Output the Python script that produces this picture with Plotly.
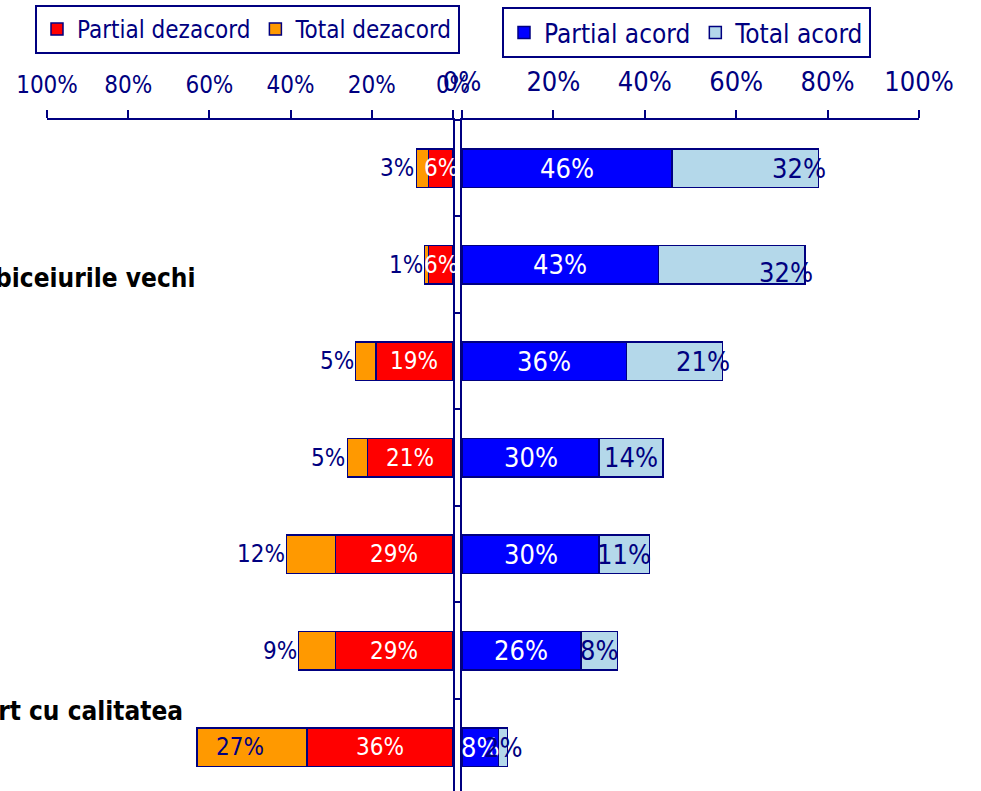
import plotly.graph_objects as go

# ---------------- data ----------------
categories = ["Afirmatia 1", "Afirmatia 2", "Afirmatia 3", "Afirmatia 4",
              "Afirmatia 5", "Afirmatia 6", "Afirmatia 7"]
row_labels = ["", "obiceiurile vechi", "", "", "", "", "raport cu calitatea"]
partial_dezacord = [6, 6, 19, 21, 29, 29, 36]
total_dezacord = [3, 1, 5, 5, 12, 9, 27]
partial_acord = [46, 43, 36, 30, 30, 26, 8]
total_acord = [32, 32, 21, 14, 11, 8, 2]
tick_vals = [0, 0.2, 0.4, 0.6, 0.8, 1.0]

# ---------------- style ----------------
NAVY = "#000080"
RED = "#FF0000"
ORANGE = "#FF9900"
BLUE = "#0000FF"
LIGHT = "#B4D8EA"
FONT = "DejaVu Sans Condensed, DejaVu Sans, sans-serif"
FS_L = 24     # left half text
FS_R = 27     # right half text
W, H = 981, 791
TOP = 120
plot_h = H - TOP

def pct(v):
    return [x / 100 for x in v]

fig = go.Figure()

common = dict(orientation="h", width=0.4,
              marker_line=dict(color=NAVY, width=1.5), textposition="none")

fig.add_trace(go.Bar(y=categories, x=pct(partial_dezacord), name="Partial dezacord",
                     marker_color=RED, xaxis="x", yaxis="y", legend="legend", **common))
fig.add_trace(go.Bar(y=categories, x=pct(total_dezacord), name="Total dezacord",
                     marker_color=ORANGE, xaxis="x", yaxis="y", legend="legend", **common))
fig.add_trace(go.Bar(y=categories, x=pct(partial_acord), name="Partial acord",
                     marker_color=BLUE, xaxis="x2", yaxis="y2", legend="legend2", **common))
fig.add_trace(go.Bar(y=categories, x=pct(total_acord), name="Total acord",
                     marker_color=LIGHT, xaxis="x2", yaxis="y2", legend="legend2", **common))

def ann(x, y, text, xr, yr, color, size, xanchor="center", xshift=0, yshift=0):
    return dict(x=x, y=y, xref=xr, yref=yr, text=text, showarrow=False,
                xanchor=xanchor, xshift=xshift, yshift=yshift,
                font=dict(color=color, size=size, family=FONT))

annotations = []
# "Total dezacord" labels (drawn first, below the others)
for c, pdz, tdz in zip(categories, partial_dezacord, total_dezacord):
    if tdz >= 20:
        annotations.append(ann((pdz + tdz / 2) / 100, c, f"{tdz}%", "x", "y", NAVY, FS_L,
                               xshift=-12))
    else:
        annotations.append(ann((pdz + tdz) / 100, c, f"{tdz}%", "x", "y", NAVY, FS_L,
                               xanchor="right", xshift=0))
# "Partial dezacord" labels
for c, pdz in zip(categories, partial_dezacord):
    annotations.append(ann(pdz / 200, c, f"{pdz}%", "x", "y", "white", FS_L))
# "Partial acord" labels
for c, pa in zip(categories, partial_acord):
    annotations.append(ann(pa / 200, c, f"{pa}%", "x2", "y2", "white", FS_R))
# "Total acord" labels
for i, (c, pa, ta) in enumerate(zip(categories, partial_acord, total_acord)):
    if ta >= 20:
        annotations.append(ann((pa + ta) / 100, c, f"{ta}%", "x2", "y2", NAVY, FS_R,
                               xanchor="right", xshift=10, yshift=-8 if i == 1 else 0))
    else:
        annotations.append(ann((pa + ta / 2) / 100, c, f"{ta}%", "x2", "y2", NAVY, FS_R))
# category texts (cut by the left border, as in the original)
label_pos = {1: (197, -13), 6: (185, 36)}
for i, (c, t) in enumerate(zip(categories, row_labels)):
    if t:
        xr, ys = label_pos[i]
        annotations.append(dict(x=xr / W, y=c, xref="paper", yref="y", text=f"<b>{t}</b>",
                                showarrow=False, xanchor="right", yshift=ys,
                                font=dict(color="black", size=26, family=FONT)))

def xaxis_style(size):
    return dict(side="top", showline=True, linecolor=NAVY, linewidth=1.5,
                ticks="outside", ticklen=8, tickcolor=NAVY, tickwidth=1.5,
                tickvals=tick_vals, tickformat=".0%", showgrid=False, zeroline=False,
                tickfont=dict(color=NAVY, size=size, family=FONT), ticklabelstandoff=8)

ycommon = dict(type="category", categoryarray=categories, categoryorder="array",
               range=[6.455, -0.5], showline=True, linecolor=NAVY, linewidth=1.5,
               showticklabels=False, showgrid=False, zeroline=False)

fig.update_layout(
    width=W, height=H,
    margin=dict(l=0, r=0, t=TOP, b=0, pad=0, autoexpand=False),
    paper_bgcolor="white", plot_bgcolor="white",
    barmode="stack", showlegend=True,
    font=dict(family=FONT, color=NAVY, size=FS_L),
    xaxis=dict(domain=[47 / W, 453 / W], range=[1, 0], anchor="y", **xaxis_style(FS_L)),
    xaxis2=dict(domain=[462 / W, 919 / W], range=[0, 1], anchor="y2", **xaxis_style(FS_R)),
    yaxis=dict(anchor="x", side="right", ticks="outside", ticklen=5, tickcolor=NAVY,
               tickwidth=1.5, tickson="boundaries", **ycommon),
    yaxis2=dict(anchor="x2", side="left", ticks="", **ycommon),
    legend=dict(orientation="h", x=35 / W, y=1 + (TOP - 5) / plot_h, xanchor="left",
                yanchor="top", bordercolor=NAVY, borderwidth=2, bgcolor="white",
                font=dict(color=NAVY, size=FS_L, family=FONT), traceorder="normal"),
    legend2=dict(orientation="h", x=502 / W, y=1 + (TOP - 7) / plot_h, xanchor="left",
                 yanchor="top", bordercolor=NAVY, borderwidth=2, bgcolor="white",
                 font=dict(color=NAVY, size=26, family=FONT), traceorder="normal"),
    annotations=annotations,
)

fig.write_html("out.html", config={"displayModeBar": False},
               post_script="document.body.style.margin='0';")
